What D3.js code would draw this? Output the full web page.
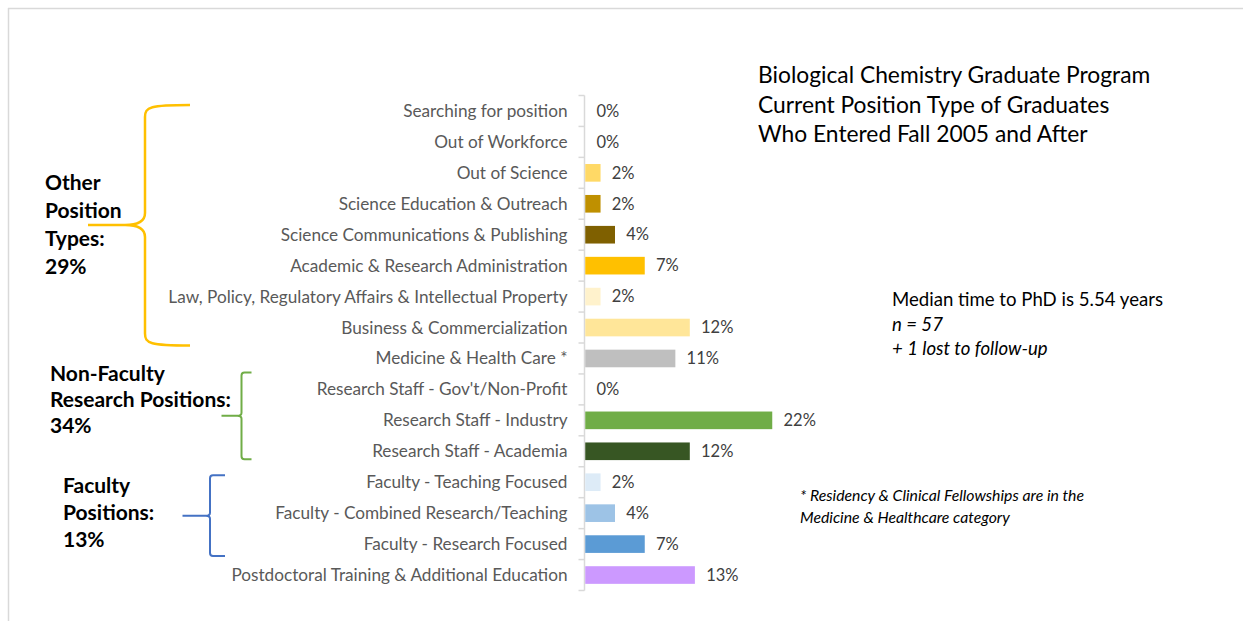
<!DOCTYPE html>
<html>
<head>
<meta charset="utf-8">
<title>Current Position Type of Graduates</title>
<script src="https://cdn.jsdelivr.net/npm/d3@7"></script>
<style>
  body { margin: 0; background: #fff; }
  text { font-family: Lato, "Open Sans", sans-serif; }
</style>
</head>
<body>
<svg width="1243" height="621"></svg>
<script>
// data (percent of graduates)
var categories = [
  "Searching for position",
  "Out of Workforce",
  "Out of Science",
  "Science Education & Outreach",
  "Science Communications & Publishing",
  "Academic & Research Administration",
  "Law, Policy, Regulatory Affairs & Intellectual Property",
  "Business & Commercialization",
  "Medicine & Health Care *",
  "Research Staff - Gov't/Non-Profit",
  "Research Staff - Industry",
  "Research Staff - Academia",
  "Faculty - Teaching Focused",
  "Faculty - Combined Research/Teaching",
  "Faculty - Research Focused",
  "Postdoctoral Training & Additional Education"
];
var values = [0, 0, 1.8, 1.8, 3.5, 7.0, 1.8, 12.3, 10.6, 0, 22.0, 12.3, 1.8, 3.5, 7.0, 12.9];
var labels = ["0%", "0%", "2%", "2%", "4%", "7%", "2%", "12%", "11%", "0%", "22%", "12%", "2%", "4%", "7%", "13%"];
var colors = ["#FFD966", "#FFD966", "#FFD966", "#BF9000", "#7F6000", "#FFC000", "#FFF2CC", "#FFE699",
              "#BFBFBF", "#A9D18E", "#70AD47", "#375623", "#DDEBF7", "#9DC3E6", "#5B9BD5", "#CC99FF"];

var groupNames = [["Other", "Position", "Types:", "29%"],
                  ["Non-Faculty", "Research Positions:", "34%"],
                  ["Faculty", "Positions:", "13%"]];
// first and last category each bracket spans
var groupSpans = [[0, 7], [9, 11], [12, 14]];

var titleLines = ["Biological Chemistry Graduate Program",
                  "Current Position Type of Graduates",
                  "Who Entered Fall 2005 and After"];
var noteLines = ["Median time to PhD is 5.54 years", "n = 57", "+ 1 lost to follow-up"];
var footLines = ["* Residency & Clinical Fellowships are in the", "Medicine & Healthcare category"];

var svg = d3.select("svg");

// frame
svg.append("line").attr("x1", 8).attr("x2", 1243).attr("y1", 8.5).attr("y2", 8.5)
   .attr("stroke", "#d9d9d9").attr("stroke-width", 1.5);
svg.append("line").attr("x1", 8.5).attr("x2", 8.5).attr("y1", 8).attr("y2", 621)
   .attr("stroke", "#d9d9d9").attr("stroke-width", 1.5);

var x0 = 584.5;
var xScale = d3.scaleLinear().domain([0, 30]).range([0, 255]);
var yScale = d3.scaleBand().domain(categories).range([95.5, 590.5])
               .paddingInner(0.43).paddingOuter(0.215);
var step = yScale.step();

var g = svg.append("g").attr("transform", "translate(" + x0 + ",0)");

// axis line and ticks between categories
g.append("line").attr("y1", 95.5).attr("y2", 590.5)
  .attr("stroke", "#d9d9d9").attr("stroke-width", 1.5);
g.selectAll(".tick").data(d3.range(categories.length + 1)).enter()
  .append("line")
  .attr("x1", -6).attr("x2", 0)
  .attr("y1", d => 95.5 + d * step).attr("y2", d => 95.5 + d * step)
  .attr("stroke", "#d9d9d9").attr("stroke-width", 1.5);

// category labels
g.selectAll(".cat").data(categories).enter()
  .append("text")
  .attr("x", -17)
  .attr("y", d => yScale(d) + yScale.bandwidth() / 2)
  .attr("dy", "0.35em")
  .attr("text-anchor", "end")
  .attr("font-size", 17.2)
  .attr("fill", "#595959")
  .text(d => d);

// bars
g.selectAll(".bar").data(values).enter()
  .append("rect")
  .attr("x", 0.75)
  .attr("y", (d, i) => yScale(categories[i]))
  .attr("height", yScale.bandwidth())
  .attr("width", d => xScale(d))
  .attr("fill", (d, i) => colors[i]);

// value labels
g.selectAll(".val").data(values).enter()
  .append("text")
  .attr("x", d => xScale(d) + 12)
  .attr("y", (d, i) => yScale(categories[i]) + yScale.bandwidth() / 2)
  .attr("dy", "0.35em")
  .attr("font-size", 16.5)
  .attr("fill", "#404040")
  .text((d, i) => labels[i]);

// brackets
var braceColors = ["#FFC000", "#70AD47", "#4472C4"];
function center(i) { return yScale(categories[i]) + yScale.bandwidth() / 2; }

// orange curly brace
(function () {
  var top = center(groupSpans[0][0]) - 6, bot = center(groupSpans[0][1]) + 18,
      mid = 225, xv = 145, xe = 190, xt = 88;
  var p = d3.path();
  p.moveTo(xe, top);
  p.bezierCurveTo(xv + 5, top, xv, top + 2, xv, top + 12);
  p.lineTo(xv, mid - 12);
  p.bezierCurveTo(xv, mid - 2, xv - 10, mid, xv - 20, mid);
  p.lineTo(xt, mid);
  p.moveTo(xv - 20, mid);
  p.bezierCurveTo(xv - 10, mid, xv, mid + 2, xv, mid + 12);
  p.lineTo(xv, bot - 12);
  p.bezierCurveTo(xv, bot - 2, xv + 5, bot, xe, bot);
  svg.append("path").attr("d", p.toString()).attr("fill", "none")
     .attr("stroke", braceColors[0]).attr("stroke-width", 2.5);
})();

// green and blue square-ish braces
[[1, 241.5, 251.5, 221.5, -17, 8], [2, 210, 225, 182.5, -7, 12]].forEach(function (b) {
  var k = b[0], xv = b[1], xe = b[2], xt = b[3];
  var top = center(groupSpans[k][0]) + b[4], bot = center(groupSpans[k][1]) + b[5];
  var mid = (top + bot) / 2;
  var p = d3.path();
  p.moveTo(xe, top);
  p.lineTo(xv + 3, top);
  p.quadraticCurveTo(xv, top, xv, top + 3);
  p.lineTo(xv, mid - 3);
  p.quadraticCurveTo(xv, mid, xv - 4, mid);
  p.lineTo(xt, mid);
  p.moveTo(xv - 4, mid);
  p.quadraticCurveTo(xv, mid, xv, mid + 3);
  p.lineTo(xv, bot - 3);
  p.quadraticCurveTo(xv, bot, xv + 3, bot);
  p.lineTo(xe, bot);
  svg.append("path").attr("d", p.toString()).attr("fill", "none")
     .attr("stroke", braceColors[k]).attr("stroke-width", 2);
});

// group names
var groupPos = [[45, 190, 28], [50, 381, 26], [63, 493, 27]];
groupNames.forEach(function (lines, k) {
  var t = svg.append("text")
    .attr("x", groupPos[k][0]).attr("y", groupPos[k][1])
    .attr("font-size", 21).attr("font-weight", "bold").attr("fill", "#000");
  lines.forEach(function (s, j) {
    t.append("tspan").attr("x", groupPos[k][0]).attr("y", groupPos[k][1] + j * groupPos[k][2]).text(s);
  });
});

// title
titleLines.forEach(function (s, j) {
  svg.append("text").attr("x", 758).attr("y", 83 + j * 29.5)
    .attr("font-size", 22.8).attr("fill", "#000").text(s);
});

// side notes
noteLines.forEach(function (s, j) {
  svg.append("text").attr("x", 892).attr("y", 306 + j * 24.5)
    .attr("font-size", 18.6).attr("fill", "#000")
    .attr("font-style", j > 0 ? "italic" : "normal").text(s);
});

footLines.forEach(function (s, j) {
  svg.append("text").attr("x", 800).attr("y", 501 + j * 21.5)
    .attr("font-size", 15.8).attr("font-style", "italic").attr("fill", "#000").text(s);
});
</script>
</body>
</html>
